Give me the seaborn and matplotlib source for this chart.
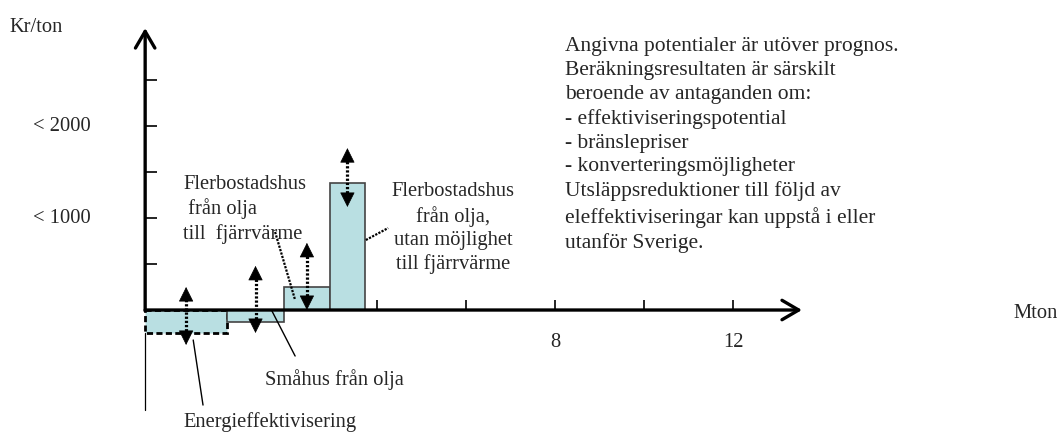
import numpy as np
import pandas as pd
import matplotlib
matplotlib.use("Agg")
import matplotlib.pyplot as plt
import seaborn as sns

# ---------------- data ----------------
measures = ["Energieffektivisering", "Småhus från olja",
            "Flerbostadshus från olja till fjärrvärme",
            "Flerbostadshus från olja, utan möjlighet till fjärrvärme"]
widths = [1.84, 1.28, 1.03, 0.79]          # Mton (bar widths)
costs = [-250, -130, 250, 1380]            # kr/ton (bar heights)
range_low = [-380, -250, 0, 1120]          # uncertainty arrows
range_high = [250, 480, 730, 1760]
x_start = -1.21                            # where the cost curve starts
x_ticks = [4, 6, 8, 10, 12]
x_ticklabels = ["", "", "8", "", "12"]
y_ticks = [500, 1000, 1500, 2000, 2500]
y_ticklabels = ["", "< 1000", "", "< 2000", ""]
note_lines = ["Angivna potentialer är utöver prognos.",
              "Beräkningsresultaten är särskilt",
              "beroende av antaganden om:",
              "- effektiviseringspotential",
              "- bränslepriser",
              "- konverteringsmöjligheter",
              "Utsläppsreduktioner till följd av",
              "eleffektiviseringar kan uppstå i eller",
              "utanför Sverige."]

edges = np.concatenate([[x_start], x_start + np.cumsum(widths)])
mids = (edges[:-1] + edges[1:]) / 2
df = pd.DataFrame({"x": mids, "cost": costs, "measure": measures})

# ---------------- figure ----------------
sns.set_theme(style="white")
plt.rcParams["font.family"] = ["Liberation Serif", "DejaVu Serif"]
fig = plt.figure(figsize=(10.59, 4.32), dpi=100)
ax = fig.add_axes([0, 0, 1, 1])

FS = 14.8
fill = "#b9dfe2"
sns.histplot(data=df, x="x", weights="cost", bins=[float(e) for e in edges],
             stat="count", color=fill, alpha=1, edgecolor="#444444",
             linewidth=1.2, ax=ax, zorder=2)
ax.set_xlim(-4.472, 19.326)
ax.set_ylim(-1326, 3370)
ax.axis("off")
bars = ax.patches
bars[0].set_linestyle((0, (2.2, 1.2)))
bars[0].set_edgecolor("black")
bars[0].set_linewidth(2.0)

# axes with arrows
ax.annotate("", xy=(13.55, 0), xytext=(x_start, 0),
            arrowprops=dict(arrowstyle="->, head_length=0.6, head_width=0.35",
                            lw=2.4, color="black", mutation_scale=20,
                            shrinkA=0, shrinkB=0), zorder=4)
ax.annotate("", xy=(x_start, 3065), xytext=(x_start, -10),
            arrowprops=dict(arrowstyle="->, head_length=0.6, head_width=0.35",
                            lw=2.4, color="black", mutation_scale=20,
                            shrinkA=0, shrinkB=0), zorder=4)
ax.plot([x_start, x_start], [-250, -1090], color="black", lw=0.9, zorder=3)

# ticks
ax.vlines(x_ticks, 0, 110, color="black", lw=1.2, zorder=1)
ax.hlines(y_ticks, x_start, x_start + 0.26, color="black", lw=1.2, zorder=3)
for xt, lab in zip(x_ticks, x_ticklabels):
    ax.text(xt, -355, lab, ha="center", va="center", fontsize=FS)
for yt, lab in zip(y_ticks, y_ticklabels):
    ax.text(-2.43, yt, lab, ha="right", va="center", fontsize=FS)
ax.text(-4.25, 3070, "Kr/ton", ha="left", va="center", fontsize=FS)
ax.text(18.8, -35, "Mton", ha="center", va="center", fontsize=FS)

# uncertainty arrows: dotted shaft + solid heads
head = 140  # head length in data units (~13 px)
head_style = dict(arrowstyle="-|>, head_length=0.6, head_width=0.3",
                  lw=0.5, color="black", mutation_scale=16,
                  shrinkA=0, shrinkB=0)
for xm, lo, hi in zip(mids, range_low, range_high):
    ax.plot([xm, xm], [lo + head * 0.8, hi - head * 0.8], color="black",
            lw=2.3, ls=(0, (0.7, 0.6)), zorder=5)
    ax.annotate("", xy=(xm, hi), xytext=(xm, hi - head), arrowprops=head_style,
                zorder=6)
    ax.annotate("", xy=(xm, lo), xytext=(xm, lo + head), arrowprops=head_style,
                zorder=6)

# labels with leader lines
ax.text(-0.36, 1470, "Flerbostadshus\n från olja\ntill  fjärrvärme",
        ha="left", va="top", fontsize=FS, linespacing=1.3)
ax.plot([1.71, 2.16], [848, 109], color="black", lw=1.6, ls=(0, (1, 0.6)))

ax.text(5.71, 1390, "Flerbostadshus\nfrån olja,\nutan möjlighet\ntill fjärrvärme",
        ha="center", va="top", fontsize=FS, linespacing=1.3)
ax.plot([3.75, 4.25], [761, 891], color="black", lw=1.6, ls=(0, (1, 0.6)))

ax.text(1.48, -760, "Småhus från olja", ha="left", va="center", fontsize=FS)
ax.plot([2.16, 1.64], [-500, -11], color="black", lw=1.0)

ax.text(-0.36, -1220, "Energieffektivisering", ha="left", va="center",
        fontsize=FS)
ax.plot([0.09, -0.13], [-1033, -326], color="black", lw=1.0)

ax.text(8.23, 2965, "\n".join(note_lines), ha="left", va="top",
        fontsize=15.5, linespacing=1.34)

fig.savefig("out.png", dpi=100)
